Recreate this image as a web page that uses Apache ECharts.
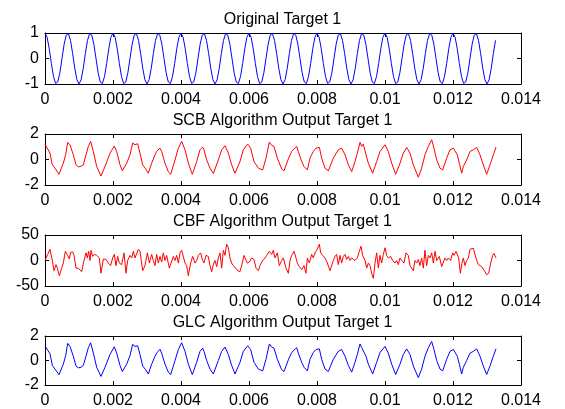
<!DOCTYPE html>
<html>
<head>
<meta charset="utf-8">
<script src="https://cdn.jsdelivr.net/npm/echarts@6/dist/echarts.min.js"></script>
<style>
html, body { margin: 0; padding: 0; background: #fff; }
#container { width: 565px; height: 409px; }
</style>
</head>
<body>
<div id="container"></div>
<script>
// times are in ms, axis labels are shown in seconds
var sineVals = [
  1,0.83,0.38,-0.2,-0.71,-0.98,-0.92,-0.56,0,0.56,0.92,0.98,0.71,0.2,-0.38,-0.83,-1,-0.83,-0.38,0.2,0.71,0.98,0.92,0.56,0,-0.56,-0.92,-0.98,-0.71,-0.2,0.38,0.83,
  1,0.83,0.38,-0.2,-0.71,-0.98,-0.92,-0.56,0,0.56,0.92,0.98,0.71,0.2,-0.38,-0.83,-1,-0.83,-0.38,0.2,0.71,0.98,0.92,0.56,0,-0.56,-0.92,-0.98,-0.71,-0.2,0.38,0.83,
  1,0.83,0.38,-0.2,-0.71,-0.98,-0.92,-0.56,0,0.56,0.92,0.98,0.71,0.2,-0.38,-0.83,-1,-0.83,-0.38,0.2,0.71,0.98,0.92,0.56,0,-0.56,-0.92,-0.98,-0.71,-0.2,0.38,0.83,
  1,0.83,0.38,-0.2,-0.71,-0.98,-0.92,-0.56,0,0.56,0.92,0.98,0.71,0.2,-0.38,-0.83,-1,-0.83,-0.38,0.2,0.71,0.98,0.92,0.56,0,-0.56,-0.92,-0.98,-0.71,-0.2,0.38,0.83,
  1,0.83,0.38,-0.2,-0.71,-0.98,-0.92,-0.56,0,0.56,0.92,0.98,0.71,0.2,-0.38,-0.83,-1,-0.83,-0.38,0.2,0.71,0.98,0.92,0.56,0,-0.56,-0.92,-0.98,-0.71,-0.2,0.38,0.83,
  1,0.83,0.38,-0.2,-0.71,-0.98,-0.92,-0.56,0,0.56,0.92,0.98,0.71,0.2,-0.38,-0.83,-1,-0.83,-0.38,0.2,0.71,0.98,0.92,0.56,0,-0.56,-0.92,-0.98,-0.71,-0.2,0.38,0.83,
  1,0.83,0.38,-0.2,-0.71,-0.98,-0.92,-0.56,0,0.56,0.92,0.98,0.71,0.2,-0.38,-0.83,-1,-0.83,-0.38,0.2,0.71
];
var sampleMs = 1 / 16; // 16 kHz sampling

var tOut = [0,0.147,0.216,0.294,0.412,0.539,0.608,0.667,0.735,0.833,
  0.912,0.98,1.059,1.127,1.206,1.275,1.343,1.422,1.52,1.647,
  1.765,1.912,2.039,2.108,2.206,2.275,2.402,2.5,2.578,2.647,
  2.725,2.794,2.873,2.961,3.039,3.137,3.235,3.284,3.382,3.431,
  3.529,3.627,3.696,3.824,3.922,4.02,4.118,4.216,4.333,4.461,
  4.559,4.637,4.676,4.755,4.853,4.951,5.098,5.196,5.294,5.392,
  5.49,5.588,5.735,5.833,5.961,6.049,6.147,6.275,6.402,6.5,
  6.598,6.667,6.735,6.833,6.961,7.029,7.157,7.255,7.402,7.451,
  7.549,7.618,7.676,7.716,7.794,7.892,7.971,8.069,8.137,8.235,
  8.333,8.48,8.627,8.725,8.824,8.922,9.02,9.118,9.186,9.265,
  9.314,9.363,9.441,9.51,9.637,9.755,9.853,10.0,10.098,10.196,
  10.314,10.441,10.539,10.637,10.735,10.833,10.98,11.078,11.176,11.275,
  11.373,11.441,11.52,11.618,11.696,11.814,11.912,12.01,12.059,12.127,
  12.186,12.255,12.304,12.402,12.5,12.598,12.696,12.794,12.892,12.99,
  13.088,13.186,13.265];

var scbVals = [1.2,0.5,-0.42,-0.68,-1.16,-0.29,0.37,1.34,1.16,0.37,
  -0.42,-0.58,-0.53,-0.42,0.37,1.03,1.42,0.63,-0.55,-1.29,
  -0.55,0.5,1.05,0.63,-0.42,-0.89,-0.29,0.37,1.29,1.16,
  1.24,0.5,-0.42,-0.74,-1.08,-0.29,0.37,0.63,0.89,0.63,
  -0.29,-0.95,-1.16,-0.03,0.89,1.42,0.76,-0.29,-1.16,-0.16,
  0.76,0.97,0.76,-0.03,-0.68,-1.11,-0.03,0.76,1.08,0.5,
  -0.42,-1.08,-0.16,0.76,1.21,0.89,-0.16,-0.68,-0.82,0.11,
  1.37,1.11,1.03,0.11,-0.74,-0.89,0.05,0.63,1.03,0.63,
  -0.16,-0.55,-0.63,-0.82,0.11,0.63,0.89,0.95,0.11,-0.68,
  -0.89,0.11,0.76,0.89,0.37,-0.42,-0.95,-0.16,0.5,1.34,
  1.03,1.21,0.37,-0.29,-1.08,-0.16,0.63,1.16,0.63,-0.29,
  -1.16,-0.29,0.5,0.95,0.5,-0.42,-1.39,-0.68,0.37,1.03,
  1.55,0.89,-0.03,-0.68,-0.82,0.11,0.76,0.89,1.03,0.37,
  -0.29,-1.08,-0.55,-0.03,0.63,0.76,0.95,0.37,-0.42,-1.16,
  -0.42,0.37,0.97];

var glcVals = [1.2,0.55,-0.4,-0.7,-1.15,-0.3,0.4,1.4,1.15,0.35,
  -0.45,-0.6,-0.55,-0.4,0.35,1.05,1.45,0.6,-0.55,-1.3,
  -0.55,0.5,1.12,0.6,-0.4,-0.9,-0.3,0.4,1.32,1.15,
  1.2,0.5,-0.45,-0.75,-1.1,-0.3,0.35,0.6,0.92,0.6,
  -0.3,-0.95,-1.15,0,0.9,1.45,0.75,-0.3,-1.15,-0.15,
  0.75,1.0,0.75,0,-0.7,-1.1,0,0.75,1.1,0.5,
  -0.4,-1.1,-0.15,0.75,1.2,0.9,-0.15,-0.7,-0.85,0.1,
  1.35,1.1,1.0,0.1,-0.75,-0.9,0.05,0.65,1.05,0.6,
  -0.15,-0.55,-0.65,-0.85,0.1,0.65,0.9,0.95,0.1,-0.7,
  -0.9,0.1,0.75,0.9,0.35,-0.4,-0.95,-0.15,0.5,1.35,
  1.05,1.2,0.35,-0.3,-1.1,-0.15,0.65,1.15,0.6,-0.3,
  -1.15,-0.3,0.5,0.95,0.5,-0.45,-1.4,-0.7,0.35,1.05,
  1.55,0.9,0,-0.7,-0.85,0.1,0.75,0.9,1.05,0.35,
  -0.3,-1.1,-0.55,0,0.6,0.75,0.95,0.35,-0.45,-1.15,
  -0.45,0.35,0.95];

var tCbf = [0,0.078,0.147,0.216,0.265,0.324,0.363,0.422,0.49,0.539,
  0.598,0.667,0.716,0.755,0.814,0.853,0.912,0.98,1.029,1.078,
  1.147,1.206,1.245,1.284,1.324,1.353,1.402,1.451,1.52,1.598,
  1.647,1.716,1.794,1.863,1.931,1.99,2.039,2.088,2.137,2.186,
  2.255,2.324,2.382,2.431,2.5,2.549,2.598,2.647,2.696,2.745,
  2.794,2.873,2.941,3.01,3.069,3.137,3.186,3.235,3.284,3.333,
  3.382,3.431,3.48,3.529,3.578,3.657,3.706,3.775,3.824,3.873,
  3.922,3.971,4.02,4.118,4.167,4.216,4.284,4.343,4.412,4.461,
  4.51,4.578,4.637,4.676,4.735,4.804,4.853,4.902,4.951,5.0,
  5.049,5.098,5.147,5.196,5.245,5.294,5.343,5.392,5.441,5.49,
  5.539,5.588,5.637,5.686,5.735,5.784,5.853,5.902,5.951,6.01,
  6.078,6.147,6.206,6.275,6.324,6.402,6.471,6.52,6.598,6.667,
  6.716,6.765,6.833,6.892,6.961,7.01,7.088,7.157,
  7.206,7.255,7.324,7.382,7.422,7.48,7.549,7.618,7.676,7.716,
  7.775,7.843,7.892,7.941,7.99,8.069,8.108,8.167,8.235,8.304,
  8.382,8.431,8.48,8.529,8.578,8.627,8.676,8.725,8.775,8.824,
  8.873,8.922,8.971,9.02,9.069,9.118,9.186,9.245,9.294,9.343,
  9.412,9.461,9.51,9.559,9.608,9.657,9.706,9.755,9.804,9.853,
  9.902,9.951,10.0,10.049,10.098,10.167,10.225,10.294,10.343,10.392,
  10.441,10.49,10.559,10.618,10.686,10.735,10.784,10.833,10.882,10.931,
  10.98,11.029,11.078,11.127,11.176,11.225,11.275,11.324,11.373,11.422,
  11.471,11.52,11.598,11.667,11.716,11.765,11.814,11.863,11.931,11.99,
  12.029,12.088,12.127,12.167,12.216,12.265,12.304,12.353,12.402,12.451,
  12.5,12.549,12.598,12.647,12.696,12.745,12.794,12.843,12.892,12.941,
  12.99,13.049,13.108,13.167,13.206,13.265];

var cbfVals = [0,12,22,0,-20,-8,-15,-30,-15,-5,
  18,10,3,16,17,10,-15,-15,-14,-22,
  0,15,5,18,0,20,8,12,10,5,
  -25,3,2,-5,-10,5,12,-10,8,-5,
  -8,15,-25,0,10,5,18,5,3,22,
  18,-20,-10,15,-5,12,0,-10,12,-5,
  8,-3,15,0,10,-15,-5,8,0,10,
  -5,15,20,-5,-10,-30,-5,8,-5,0,
  10,15,0,-5,10,8,-10,-22,-8,0,
  -12,5,15,-15,20,10,32,25,5,-5,
  -10,-12,-18,-15,-22,-10,10,12,-5,-3,
  5,2,-15,-20,-10,0,5,10,18,12,
  20,5,15,-10,0,5,-15,-25,
  0,10,18,5,-5,-12,-18,-10,-25,5,
  -5,12,5,15,20,32,15,10,5,-5,
  -20,-18,0,8,12,-8,10,-5,8,12,
  2,8,0,5,8,0,5,18,28,10,
  0,-15,-5,-10,-25,-35,-5,15,-15,10,
  -5,12,25,10,5,8,0,-5,0,-8,
  5,0,-5,15,10,-10,-15,-20,0,-5,
  2,-10,5,-15,20,-10,10,5,15,-5,
  18,0,8,-12,-10,5,0,5,0,15,
  10,18,20,5,-25,-5,5,-10,0,5,
  22,22,24,22,0,-8,-5,-12,-15,-22,
  -28,-25,-5,10,14,5];

var titles = ['Original Target 1', 'SCB Algorithm Output Target 1',
  'CBF Algorithm Output Target 1', 'GLC Algorithm Output Target 1'];
var yRanges = [[-1, 1, 1], [-2, 2, 2], [-50, 50, 50], [-2, 2, 2]];
var colors = ['#0000ff', '#ff0000', '#ff0000', '#0000ff'];

var myChart = echarts.init(document.getElementById('container'));
var font = '"Liberation Sans", Arial, Helvetica, sans-serif';
var tops = [33, 134, 235, 336];

function pairs(t, v) {
  var out = [];
  for (var i = 0; i < v.length; i++) out.push([t[i], v[i]]);
  return out;
}
var sineData = [];
for (var i = 0; i < sineVals.length; i++) sineData.push([i * sampleMs, sineVals[i]]);

var seriesData = [sineData, pairs(tOut, scbVals), pairs(tCbf, cbfVals), pairs(tOut, glcVals)];

var grid = [], xAxis = [], yAxis = [], series = [], title = [];
for (var k = 0; k < 4; k++) {
  grid.push({ left: 45, right: 44, top: tops[k], height: 51, show: false });
  title.push({
    text: titles[k], left: 'center', top: tops[k] - 26,
    textStyle: { fontSize: 16, fontWeight: 'normal', color: '#000', fontFamily: font }
  });
  var lineStyle = { onZero: false, lineStyle: { color: '#000', width: 1 } };
  var tickStyle = { inside: true, length: 4, lineStyle: { color: '#000', width: 1 } };
  xAxis.push({
    type: 'value', gridIndex: k, min: 0, max: 14, interval: 2, position: 'bottom',
    axisLine: lineStyle, axisTick: tickStyle, splitLine: { show: false },
    axisLabel: {
      margin: 8, color: '#000', fontSize: 16, fontFamily: font,
      formatter: function (v) { return String(+(v / 1000).toFixed(3)); }
    }
  });
  xAxis.push({
    type: 'value', gridIndex: k, min: 0, max: 14, interval: 2, position: 'top',
    axisLine: lineStyle, axisTick: tickStyle, splitLine: { show: false },
    axisLabel: { show: false }
  });
  yAxis.push({
    type: 'value', gridIndex: k, min: yRanges[k][0], max: yRanges[k][1], interval: yRanges[k][2],
    position: 'left', axisLine: lineStyle, axisTick: tickStyle, splitLine: { show: false },
    axisLabel: { margin: 6, color: '#000', fontSize: 16, fontFamily: font }
  });
  yAxis.push({
    type: 'value', gridIndex: k, min: yRanges[k][0], max: yRanges[k][1], interval: yRanges[k][2],
    position: 'right', axisLine: lineStyle, axisTick: tickStyle, splitLine: { show: false },
    axisLabel: { show: false }
  });
  series.push({
    type: 'line', xAxisIndex: k * 2, yAxisIndex: k * 2,
    data: seriesData[k], showSymbol: false, symbol: 'none',
    lineStyle: { color: colors[k], width: 1 }, itemStyle: { color: colors[k] }
  });
}

myChart.setOption({
  animation: false,
  backgroundColor: '#fff',
  title: title,
  grid: grid,
  xAxis: xAxis,
  yAxis: yAxis,
  series: series
});
</script>
</body>
</html>
